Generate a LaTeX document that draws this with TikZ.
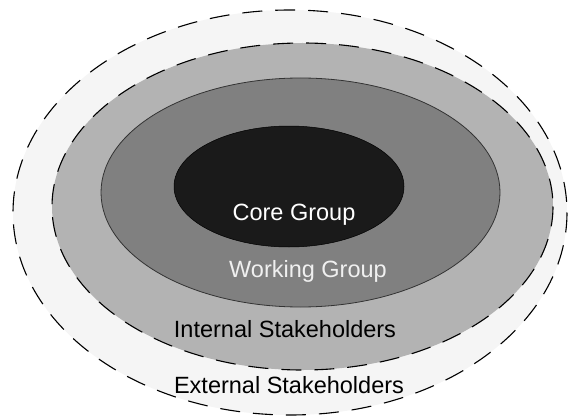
\documentclass[tikz,border=0pt]{standalone}
\usepackage{fontspec}
\setmainfont{Liberation Sans}
\definecolor{extfill}{HTML}{F5F5F5}
\definecolor{intfill}{HTML}{B3B3B3}
\definecolor{workfill}{HTML}{808080}
\definecolor{corefill}{HTML}{1A1A1A}
\tikzset{
  ring/.style={line width=1.1pt, dash pattern=on 20pt off 13pt},
  lbl/.style={anchor=base, font=\fontsize{23.5}{28}\selectfont, inner sep=0pt},
}
\begin{document}
\begin{tikzpicture}[x=1pt,y=-1pt]
\useasboundingbox (0,0) rectangle (569,417);
\path[fill=extfill] (290,212.5) ellipse [x radius=277, y radius=202.5];
\draw[ring] (290,212.5) ellipse [x radius=277, y radius=202.5];
\path[fill=intfill] (302.5,206.5) ellipse [x radius=250.5, y radius=163.5];
\draw[ring] (302.5,206.5) ellipse [x radius=250.5, y radius=163.5];
\draw[fill=workfill, draw=black!80, line width=0.8pt] (300.5,192.5) ellipse [x radius=199.5, y radius=114.5];
\draw[fill=corefill, draw=black, line width=0.5pt] (289,186.5) ellipse [x radius=115, y radius=60.5];
\node[lbl, text=white] (core) at (294,220) {Core Group};
\node[lbl, text=white!94!black] (work) at (308,277) {Working Group};
\node[lbl, text=black] (int) at (285,337) {Internal Stakeholders};
\node[lbl, text=black] (ext) at (289,393) {External Stakeholders};
\end{tikzpicture}
\end{document}
